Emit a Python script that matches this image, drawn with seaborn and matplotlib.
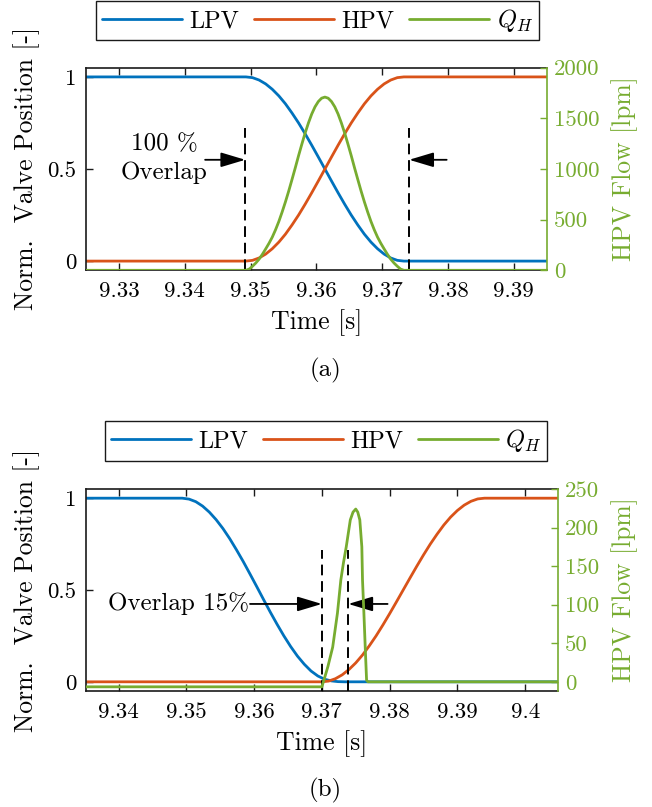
import numpy as np
import pandas as pd
import matplotlib
matplotlib.use("Agg")
import matplotlib.pyplot as plt
import seaborn as sns
from matplotlib.lines import Line2D

# ---------------- data: panel (a) ----------------
t_a_valve = [9.325, 9.3493, 9.3503, 9.3513, 9.3523, 9.3533, 9.3543, 9.3553, 9.3563,
             9.3573, 9.3583, 9.3593, 9.3603, 9.3613, 9.3623, 9.3633, 9.3643, 9.3653,
             9.3663, 9.3673, 9.3683, 9.3693, 9.3703, 9.3713, 9.3723, 9.3733, 9.395]
lpv_a = [1, 1, 0.996, 0.983, 0.962, 0.933, 0.897, 0.854, 0.804, 0.750, 0.691, 0.629,
         0.565, 0.500, 0.435, 0.371, 0.309, 0.250, 0.196, 0.146, 0.103, 0.067, 0.038,
         0.017, 0.004, 0, 0]
hpv_a = [0, 0, 0.004, 0.017, 0.038, 0.067, 0.103, 0.146, 0.196, 0.250, 0.309, 0.371,
         0.435, 0.500, 0.565, 0.629, 0.691, 0.750, 0.804, 0.854, 0.897, 0.933, 0.962,
         0.983, 0.996, 1, 1]
t_a_qh = [9.325, 9.3493, 9.3498, 9.3503, 9.3508, 9.3513, 9.3518, 9.3523, 9.3528,
          9.3533, 9.3538, 9.3543, 9.3548, 9.3553, 9.3558, 9.3563, 9.3568, 9.3573,
          9.3578, 9.3583, 9.3588, 9.3593, 9.3598, 9.3603, 9.3608, 9.3613, 9.3618,
          9.3623, 9.3628, 9.3633, 9.3638, 9.3643, 9.3648, 9.3653, 9.3658, 9.3663,
          9.3668, 9.3673, 9.3678, 9.3683, 9.3688, 9.3693, 9.3698, 9.3703, 9.3708,
          9.3713, 9.3718, 9.3723, 9.3728, 9.3733, 9.395]
qh_a = [0, 0, 12, 40, 72, 110, 158, 211, 266, 327, 400, 482, 575, 675, 782, 896,
        1012, 1132, 1246, 1356, 1455, 1543, 1614, 1666, 1699, 1710, 1699, 1666, 1614,
        1543, 1455, 1356, 1246, 1132, 1012, 896, 782, 675, 575, 482, 400, 327, 266,
        211, 158, 110, 72, 40, 12, 0, 0]
overlap_a = [9.3492, 9.3741]
xticks_a = [9.33, 9.34, 9.35, 9.36, 9.37, 9.38, 9.39]
xticklabels_a = ["9.33", "9.34", "9.35", "9.36", "9.37", "9.38", "9.39"]
yticks_right_a = [0, 500, 1000, 1500, 2000]

# ---------------- data: panel (b) ----------------
t_b_lpv = [9.335, 9.3494, 9.3504, 9.3514, 9.3524, 9.3534, 9.3544, 9.3554, 9.3564,
           9.3574, 9.3584, 9.3594, 9.3604, 9.3614, 9.3624, 9.3634, 9.3644, 9.3654,
           9.3664, 9.3674, 9.3684, 9.3694, 9.3704, 9.3714, 9.3724, 9.3734, 9.405]
lpv_b = [1, 1, 0.995, 0.981, 0.957, 0.924, 0.883, 0.835, 0.780, 0.719, 0.655, 0.587,
         0.518, 0.448, 0.379, 0.313, 0.250, 0.192, 0.140, 0.096, 0.059, 0.032, 0.014,
         0.005, 0.001, 0, 0]
t_b_hpv = [9.335, 9.3700, 9.3710, 9.3720, 9.3730, 9.3740, 9.3750, 9.3760, 9.3770,
           9.3780, 9.3790, 9.3800, 9.3810, 9.3820, 9.3830, 9.3840, 9.3850, 9.3860,
           9.3870, 9.3880, 9.3890, 9.3900, 9.3910, 9.3920, 9.3930, 9.3940, 9.405]
hpv_b = [0, 0, 0.004, 0.017, 0.038, 0.067, 0.103, 0.146, 0.196, 0.250, 0.309, 0.371,
         0.435, 0.500, 0.565, 0.629, 0.691, 0.750, 0.804, 0.854, 0.897, 0.933, 0.962,
         0.983, 0.996, 1, 1]
t_b_qh = [9.335, 9.3700, 9.3703, 9.3709, 9.3716, 9.3723, 9.3728, 9.3732, 9.3736,
          9.3742, 9.3746, 9.3750, 9.3753, 9.3756, 9.3759, 9.3760, 9.3762, 9.3764,
          9.3766, 9.3768, 9.405]
qh_b = [-6.5, -6.5, 2, 20, 45, 89, 132, 155, 175, 210, 220, 224, 220, 210, 175, 132,
        90, 45, 2, 0, 0]
overlap_b = [9.3700, 9.3739]
xticks_b = [9.34, 9.35, 9.36, 9.37, 9.38, 9.39, 9.40]
xticklabels_b = ["9.34", "9.35", "9.36", "9.37", "9.38", "9.39", "9.4"]
yticks_right_b = [0, 50, 100, 150, 200, 250]

yticks_left = [0, 0.5, 1]
yticklabels_left = ["0", "0.5", "1"]

# ---------------- style ----------------
sns.set_style("white")
plt.rcParams.update({
    "font.family": "serif",
    "font.serif": ["cmr10", "DejaVu Serif"],
    "mathtext.fontset": "cm",
    "axes.unicode_minus": False,
    "axes.formatter.use_mathtext": True,
    "font.size": 16,
    "text.color": "black",
    "axes.labelcolor": "black",
    "xtick.color": "black",
    "ytick.color": "black",
})

BLUE = "#0072BD"
ORANGE = "#D95319"
GREEN = "#77AC30"
FS_TICK = 16.5
FS_LAB = 18.5
FS_TXT = 18
FS_LEG = 17.5

fig = plt.figure(figsize=(6.52, 8.07), dpi=100)
W, H = 652, 807


def axes_px(x0, y0, x1, y1):
    return fig.add_axes([x0 / W, 1 - y1 / H, (x1 - x0) / W, (y1 - y0) / H])


def style_panel(ax, ax2, xlim, xticks, xticklabels, rticks, rlim):
    ax.set_xlim(*xlim)
    ax.set_ylim(-0.05, 1.05)
    ax.set_xticks(xticks)
    ax.set_xticklabels(xticklabels)
    ax.set_yticks(yticks_left)
    ax.set_yticklabels(yticklabels_left)
    ax.tick_params(axis="x", direction="in", top=True, bottom=True, length=5,
                   width=1.0, pad=8, labelsize=FS_TICK, color="#1a1a1a")
    ax.tick_params(axis="y", direction="in", left=True, right=False, length=5,
                   width=1.0, pad=7, labelsize=FS_TICK, color="#1a1a1a")
    for s in ["left", "top", "bottom"]:
        ax.spines[s].set_visible(True)
        ax.spines[s].set_color("#1a1a1a")
        ax.spines[s].set_linewidth(1.2)
    ax.spines["right"].set_visible(False)
    ax.set_xlabel("Time [s]", fontsize=FS_LAB, labelpad=6)
    ax.set_ylabel("Norm.  Valve Position [-]", fontsize=FS_LAB, labelpad=5)

    ax2.set_ylim(*rlim)
    ax2.set_yticks(rticks)
    ax2.set_yticklabels([str(v) for v in rticks])
    ax2.tick_params(axis="y", direction="in", right=True, left=False, length=5,
                    width=1.0, pad=5, labelsize=FS_TICK, colors=GREEN)
    for s in ["left", "top", "bottom"]:
        ax2.spines[s].set_visible(False)
    ax2.spines["right"].set_visible(True)
    ax2.spines["right"].set_color(GREEN)
    ax2.spines["right"].set_linewidth(1.2)
    ax2.set_ylabel("HPV Flow [lpm]", fontsize=FS_LAB, color=GREEN, labelpad=9)
    ax2.set_xlim(*xlim)


def legend_for(cx, cy):
    handles = [Line2D([], [], color=BLUE, lw=2),
               Line2D([], [], color=ORANGE, lw=2),
               Line2D([], [], color=GREEN, lw=2)]
    labels = ["LPV", "HPV", "$Q_H$"]
    leg = fig.legend(handles, labels, loc="center",
                     bbox_to_anchor=(cx / W, 1 - cy / H),
                     ncol=3, frameon=True, fancybox=False, shadow=False,
                     edgecolor="#1a1a1a", framealpha=1, fontsize=FS_LEG,
                     handlelength=3.3, handletextpad=0.3, columnspacing=0.6,
                     borderpad=0.25, borderaxespad=0)
    leg.get_frame().set_linewidth(1.0)
    return leg


LW = 2.0
arrow_kw = dict(arrowstyle="-|>,head_length=1.5,head_width=0.45", color="black",
                lw=1.3, shrinkA=0, shrinkB=0, mutation_scale=10)
dash_style = (0, (5.5, 3))

# ---------------- panel (a) ----------------
axA = axes_px(86, 67.7, 546.7, 270.3)
axA2 = axA.twinx()
dfA = pd.DataFrame({"t": t_a_valve, "LPV": lpv_a, "HPV": hpv_a})
dfAq = pd.DataFrame({"t": t_a_qh, "QH": qh_a})
sns.lineplot(data=dfA, x="t", y="LPV", ax=axA, color=BLUE, lw=LW, estimator=None, sort=False)
sns.lineplot(data=dfA, x="t", y="HPV", ax=axA, color=ORANGE, lw=LW, estimator=None, sort=False)
sns.lineplot(data=dfAq, x="t", y="QH", ax=axA2, color=GREEN, lw=LW, estimator=None, sort=False)
style_panel(axA, axA2, (9.325, 9.395), xticks_a, xticklabels_a, yticks_right_a, (0, 2000))
axA.vlines(overlap_a, -0.05, 0.723, colors="black", lw=1.4, linestyles=dash_style, zorder=5)
axA.annotate("", xy=(overlap_a[0], 0.55), xytext=(9.3431, 0.55), arrowprops=arrow_kw, zorder=6)
axA.annotate("", xy=(overlap_a[1], 0.55), xytext=(9.3798, 0.55), arrowprops=arrow_kw, zorder=6)
axA.text(9.3369, 0.556, "100 %\nOverlap", ha="center", va="center", fontsize=FS_TXT,
         linespacing=1.35)
legend_for(317.5, 20.8)
fig.text(325 / W, 1 - 370 / H, "(a)", ha="center", va="center", fontsize=FS_TXT)

# ---------------- panel (b) ----------------
axB = axes_px(86, 489, 557.7, 691)
axB2 = axB.twinx()
dfB1 = pd.DataFrame({"t": t_b_lpv, "LPV": lpv_b})
dfB2 = pd.DataFrame({"t": t_b_hpv, "HPV": hpv_b})
dfB3 = pd.DataFrame({"t": t_b_qh, "QH": qh_b})
sns.lineplot(data=dfB1, x="t", y="LPV", ax=axB, color=BLUE, lw=LW, estimator=None, sort=False)
sns.lineplot(data=dfB2, x="t", y="HPV", ax=axB, color=ORANGE, lw=LW, estimator=None, sort=False)
sns.lineplot(data=dfB3, x="t", y="QH", ax=axB2, color=GREEN, lw=LW, estimator=None, sort=False)
style_panel(axB, axB2, (9.3352, 9.4048), xticks_b, xticklabels_b, yticks_right_b,
            (-250 * 0.05 / 1.05, 250))
axB.vlines(overlap_b, -0.05, 0.716, colors="black", lw=1.4, linestyles=dash_style, zorder=5)
axB.annotate("", xy=(overlap_b[0], 0.424), xytext=(9.3594, 0.424), arrowprops=arrow_kw, zorder=6)
axB.annotate("", xy=(overlap_b[1], 0.424), xytext=(9.3797, 0.424), arrowprops=arrow_kw, zorder=6)
axB.text(9.3592, 0.427, "Overlap 15%", ha="right", va="center", fontsize=FS_TXT)
legend_for(326, 441)
fig.text(325 / W, 1 - 790 / H, "(b)", ha="center", va="center", fontsize=FS_TXT)

fig.savefig("out.png", dpi=100)
